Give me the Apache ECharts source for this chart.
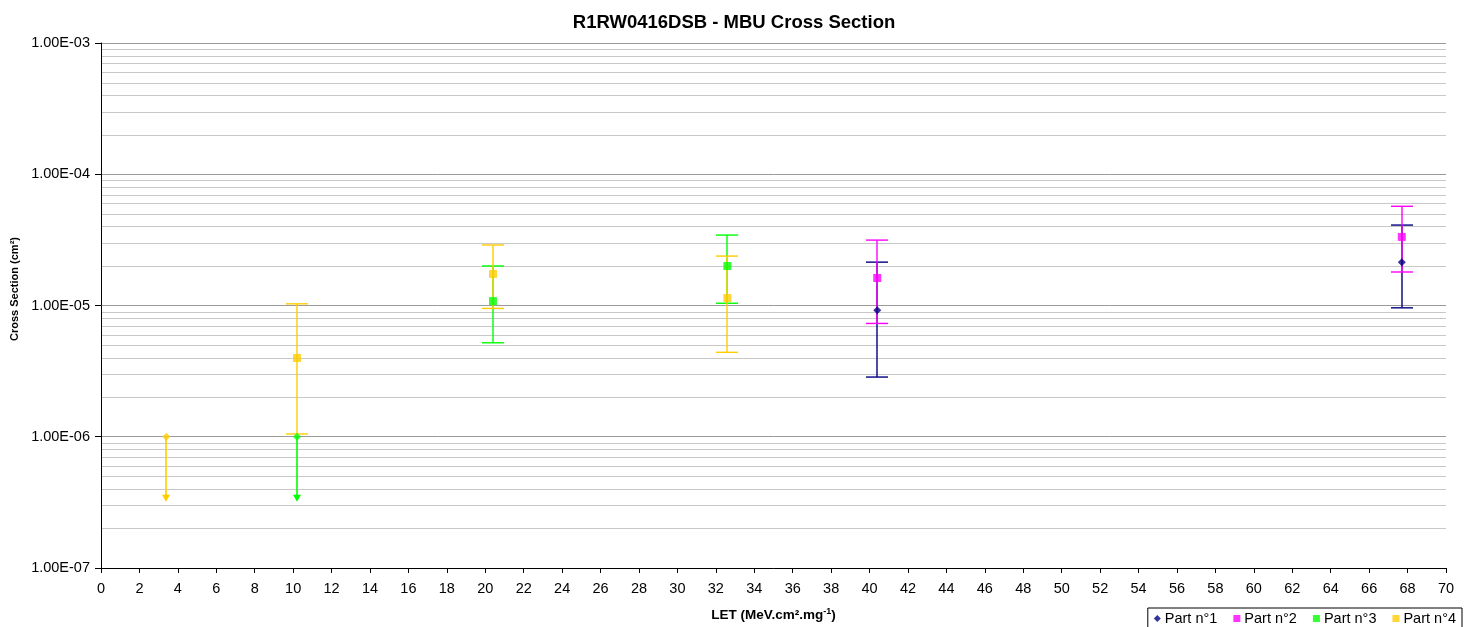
<!DOCTYPE html>
<html>
<head>
<meta charset="utf-8">
<script src="https://cdn.jsdelivr.net/npm/echarts@6/dist/echarts.min.js"></script>
<style>
  html, body { margin: 0; padding: 0; background: #fff; }
  #main { width: 1468px; height: 627px; }
</style>
</head>
<body>
<div id="main"></div>
<script>
const chartDom = document.getElementById('main');
const chart = echarts.init(chartDom);
const FONT = 'Liberation Sans, Arial, sans-serif';

// Part n°1
const part1X = [40.4, 67.7];
const part1Y = [9.2e-6, 2.14e-5];
const part1Lo = [2.85e-6, 9.6e-6];
const part1Hi = [2.14e-5, 4.1e-5];

// Part n°2
const part2X = [40.4, 67.7];
const part2Y = [1.62e-5, 3.33e-5];
const part2Lo = [7.3e-6, 1.8e-5];
const part2Hi = [3.15e-5, 5.7e-5];

// Part n°3
const part3X = [20.4, 32.6];
const part3Y = [1.08e-5, 2.0e-5];
const part3Lo = [5.2e-6, 1.04e-5];
const part3Hi = [2.0e-5, 3.44e-5];
const part3LimX = [10.2];
const part3LimY = [1.0e-6];
const part3LimTo = [3.2e-7];

// Part n°4
const part4X = [10.2, 20.4, 32.6];
const part4Y = [3.98e-6, 1.74e-5, 1.14e-5];
const part4Lo = [1.05e-6, 9.5e-6, 4.4e-6];
const part4Hi = [1.03e-5, 2.89e-5, 2.38e-5];
const part4LimX = [3.4];
const part4LimY = [1.0e-6];
const part4LimTo = [3.2e-7];

const names = ['Part n°1', 'Part n°2', 'Part n°3', 'Part n°4'];
const colors = ['#000080', '#FF00FF', '#00FF00', '#FFCC00'];

// minor grid lines at 2..9 x 10^k
const minorGrid = [];
for (let e = -7; e < -3; e++) {
  for (let m = 2; m <= 9; m++) minorGrid.push(m * Math.pow(10, e));
}

const snap = v => Math.round(v) + 0.5;

function errSeries(color, xs, lo, hi) {
  return {
    type: 'custom',
    z: 2,
    silent: true,
    encode: { x: 0, y: [1, 2] },
    data: xs.map((x, i) => [x, lo[i], hi[i]]),
    renderItem: function (params, api) {
      const x = api.value(0);
      const pLo = api.coord([x, api.value(1)]);
      const pHi = api.coord([x, api.value(2)]);
      const cx = Math.round(pLo[0]);
      const w = 11;
      const style = { stroke: color, lineWidth: 1.4 };
      return {
        type: 'group',
        children: [
          { type: 'line', shape: { x1: cx, y1: pLo[1], x2: cx, y2: pHi[1] }, style: style },
          { type: 'line', shape: { x1: cx - w, y1: pLo[1], x2: cx + w, y2: pLo[1] }, style: style },
          { type: 'line', shape: { x1: cx - w, y1: pHi[1], x2: cx + w, y2: pHi[1] }, style: style }
        ]
      };
    }
  };
}

function limitSeries(color, xs, ys, to) {
  return {
    type: 'custom',
    z: 2,
    silent: true,
    encode: { x: 0, y: [1, 2] },
    data: xs.map((x, i) => [x, ys[i], to[i]]),
    renderItem: function (params, api) {
      const x = api.value(0);
      const pTop = api.coord([x, api.value(1)]);
      const pEnd = api.coord([x, api.value(2)]);
      const cx = Math.round(pTop[0]);
      return {
        type: 'group',
        children: [
          { type: 'line', shape: { x1: cx, y1: pTop[1], x2: cx, y2: pEnd[1] - 4 }, style: { stroke: color, lineWidth: 1.6 } },
          { type: 'polygon', shape: { points: [[cx - 4, pEnd[1] - 7], [cx + 4, pEnd[1] - 7], [cx, pEnd[1]]] }, style: { fill: color } }
        ]
      };
    }
  };
}

function pointSeries(i, xs, ys, symbol) {
  return {
    name: names[i],
    type: 'scatter',
    z: 3,
    symbol: symbol,
    symbolSize: 8,
    itemStyle: { color: colors[i] },
    data: xs.map((x, j) => [x, ys[j]])
  };
}

function expLabel(v) {
  const e = Math.round(Math.log10(v));
  const sign = e < 0 ? '-' : '+';
  const a = Math.abs(e);
  return '1.00E' + sign + (a < 10 ? '0' + a : a);
}

const option = {
  animation: false,
  textStyle: { fontFamily: FONT },
  title: {
    text: 'R1RW0416DSB - MBU Cross Section',
    left: 'center',
    top: 8,
    textStyle: { fontSize: 18.5, fontWeight: 'bold', color: '#000', fontFamily: FONT }
  },
  graphic: [{
    type: 'text',
    rotation: Math.PI / 2,
    x: 15,
    y: 289,
    style: {
      text: 'Cross Section (cm²)',
      font: 'bold 11px ' + FONT,
      fill: '#000',
      align: 'center',
      verticalAlign: 'middle'
    }
  }],
  legend: {
    data: [
      { name: names[0], icon: 'diamond' },
      { name: names[1], icon: 'rect' },
      { name: names[2], icon: 'rect' },
      { name: names[3], icon: 'rect' }
    ],
    right: 6,
    bottom: -3,
    itemWidth: 7,
    itemHeight: 7,
    itemGap: 16,
    padding: [3, 6, 4, 6],
    borderColor: '#000',
    borderWidth: 1,
    borderRadius: 0,
    textStyle: { fontSize: 14.5, color: '#000', fontFamily: FONT, padding: [0, 0, 0, -1] }
  },
  grid: { left: 101, right: 22, top: 43, bottom: 59, outerBoundsMode: 'none', containLabel: false },
  xAxis: {
    type: 'value',
    min: 0,
    max: 70,
    interval: 2,
    name: 'LET (MeV.cm².mg{sup|-1})',
    nameLocation: 'middle',
    nameGap: 39,
    nameTextStyle: {
      fontSize: 13.5, fontWeight: 'bold', color: '#000', fontFamily: FONT,
      rich: { sup: { fontSize: 9, fontWeight: 'bold', color: '#000', fontFamily: FONT, verticalAlign: 'top', padding: [0, 0, 7, 0] } }
    },
    axisLine: { lineStyle: { color: '#000' } },
    axisTick: { show: true, length: 5, lineStyle: { color: '#000' } },
    axisLabel: { fontSize: 14.5, color: '#000', margin: 13, fontFamily: FONT },
    splitLine: { show: false }
  },
  yAxis: {
    type: 'log',
    logBase: 10,
    min: 1e-7,
    max: 1e-3,
    axisLine: { show: true, lineStyle: { color: '#000' } },
    axisTick: { show: true, length: 6, lineStyle: { color: '#000' } },
    axisLabel: { fontSize: 14.5, color: '#000', margin: 11, fontFamily: FONT, formatter: expLabel },
    splitLine: { show: true, lineStyle: { color: '#9a9a9a', width: 1 } }
  },
  series: [
    {
      type: 'custom',
      z: 1,
      silent: true,
      encode: { x: 0, y: 1 },
      data: minorGrid.map(v => [0, v]),
      renderItem: function (params, api) {
        const cs = params.coordSys;
        const p = api.coord([0, api.value(1)]);
        const y = snap(p[1]);
        return {
          type: 'line',
          shape: { x1: cs.x + 1, y1: y, x2: cs.x + cs.width, y2: y },
          style: { stroke: '#c8c8c8', lineWidth: 1 }
        };
      }
    },
    errSeries(colors[0], part1X, part1Lo, part1Hi),
    errSeries(colors[1], part2X, part2Lo, part2Hi),
    errSeries(colors[2], part3X, part3Lo, part3Hi),
    errSeries(colors[3], part4X, part4Lo, part4Hi),
    limitSeries(colors[2], part3LimX, part3LimY, part3LimTo),
    limitSeries(colors[3], part4LimX, part4LimY, part4LimTo),
    pointSeries(0, part1X, part1Y, 'diamond'),
    pointSeries(1, part2X, part2Y, 'rect'),
    pointSeries(2, part3X, part3Y, 'rect'),
    pointSeries(3, part4X, part4Y, 'rect'),
    pointSeries(2, part3LimX, part3LimY, 'diamond'),
    pointSeries(3, part4LimX, part4LimY, 'diamond')
  ]
};

chart.setOption(option);
</script>
</body>
</html>
